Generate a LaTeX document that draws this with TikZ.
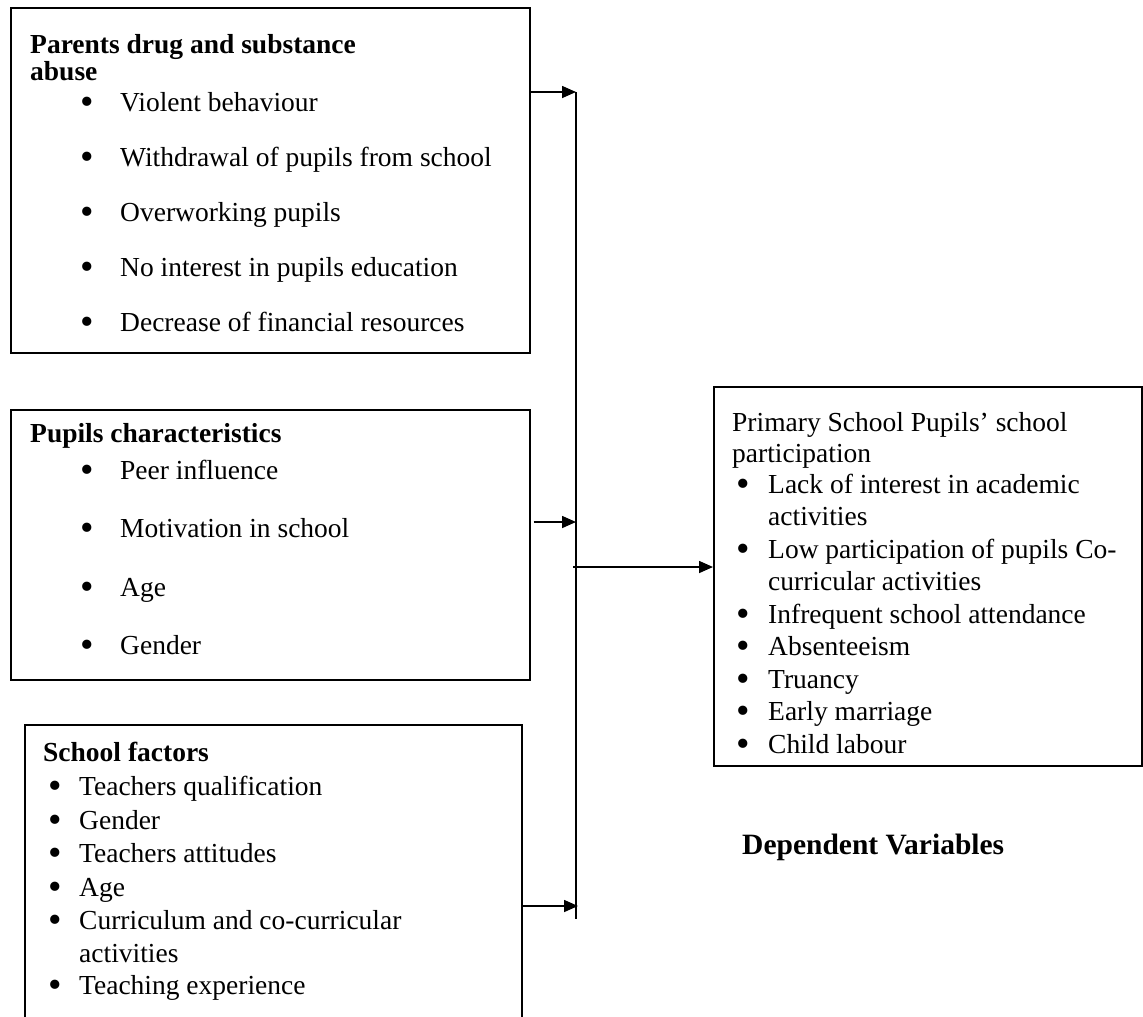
\documentclass[tikz,border=0pt]{standalone}
\usepackage{fontspec}
\setmainfont{Liberation Serif}
\usetikzlibrary{arrows.meta}
\newcommand{\bigbul}{\smash{\raisebox{-3.5pt}{\scalebox{1.4}{•}}}}
\begin{document}
\begin{tikzpicture}[x=1pt,y=-1pt,
  box/.style={draw=black,line width=1.6pt,rectangle,inner sep=0pt,anchor=north west},
  txt/.style={inner sep=0pt,anchor=base west,font=\fontsize{27.5}{33}\selectfont},
  btxt/.style={txt,font=\fontsize{27.5}{33}\selectfont\bfseries},
  bul/.style={inner sep=0pt,anchor=base west,font=\fontsize{27.5}{33}\selectfont},
  arr/.style={line width=1.6pt,-{Triangle[length=14pt,width=12pt]}},
  bus/.style={line width=1.6pt}]
\useasboundingbox (0,0) rectangle (1143,1017);
\clip (0,0) rectangle (1143,1017);
% boxes
\node[box,minimum width=519pt,minimum height=345pt] (parents) at (10,7) {};
\node[box,minimum width=519pt,minimum height=270pt] (pupils) at (10,409) {};
\node[box,minimum width=497pt,minimum height=320pt] (school) at (24,724) {};
\node[box,minimum width=428pt,minimum height=379pt] (outcome) at (713,386) {};
% box 1 text
\node[btxt] (p0) at (30,53) {Parents drug and substance};
\node[btxt] (p0b) at (30,80) {abuse};
\foreach \y/\t [count=\i] in {111/Violent behaviour,166/Withdrawal of pupils from school,221/Overworking pupils,276/No interest in pupils education,331/Decrease of financial resources}{
  \node[bul] (pb\i) at (80,\y) {\bigbul};
  \node[txt] (pt\i) at (120,\y) {\t};
}
% box 2 text
\node[btxt] (q0) at (30,442) {Pupils characteristics};
\foreach \y/\t [count=\i] in {479/Peer influence,537/Motivation in school,596/Age,654/Gender}{
  \node[bul] (qb\i) at (80,\y) {\bigbul};
  \node[txt] (qt\i) at (120,\y) {\t};
}
% box 3 text
\node[btxt] (s0) at (43,761) {School factors};
\foreach \y/\t [count=\i] in {795/Teachers qualification,829/Gender,862/Teachers attitudes,896/Age,929/Curriculum and co-curricular,994/Teaching experience}{
  \node[bul] (sb\i) at (48,\y) {\bigbul};
  \node[txt] (st\i) at (79,\y) {\t};
}
\node[txt] (st5b) at (79,962) {activities};
% outcome text
\node[txt] (o0) at (732,431) {Primary School Pupils’ school};
\node[txt] (o0b) at (732,462) {participation};
\node[bul] (ob1) at (736,493) {\bigbul};
\node[txt] (ot1) at (768,493) {Lack of interest in academic};
\node[txt] (ot1b) at (768,525) {activities};
\node[bul] (ob2) at (736,558) {\bigbul};
\node[txt] (ot2) at (768,558) {Low participation of pupils Co-};
\node[txt] (ot2b) at (768,590) {curricular activities};
\foreach \y/\t [count=\i from 3] in {623/Infrequent school attendance,655/Absenteeism,688/Truancy,720/Early marriage,753/Child labour}{
  \node[bul] (ob\i) at (736,\y) {\bigbul};
  \node[txt] (ot\i) at (768,\y) {\t};
}
\node[btxt,font=\fontsize{29.5}{35}\selectfont\bfseries] (dv) at (742,854) {Dependent Variables};
% connectors
\coordinate (busTop) at (576,92);
\coordinate (busMid) at (576,522);
\coordinate (busOut) at (573,567);
\coordinate (busBot) at (576,906);
\coordinate (busEnd) at (576,919);
\draw[bus] (busTop) -- (busEnd);
\draw[arr] (parents.east |- busTop) -- (busTop);
\draw[arr] ([xshift=3pt]pupils.east |- busMid) -- (busMid);
\draw[arr] (busOut) -- (outcome.west |- busOut);
\draw[arr] (school.east |- busBot) -- ([xshift=2pt]busBot);
\end{tikzpicture}
\end{document}
